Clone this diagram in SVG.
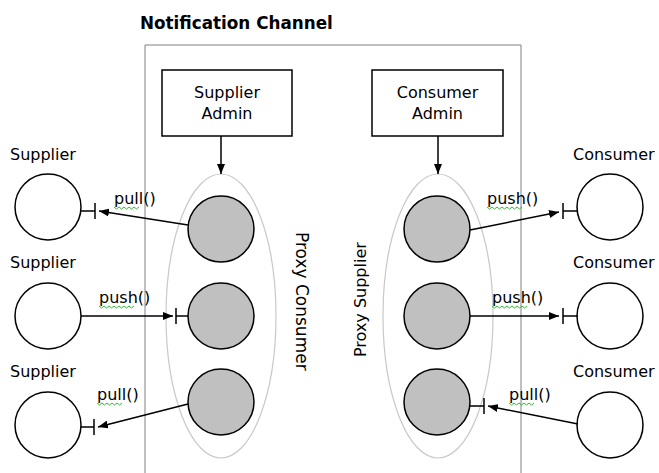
<svg xmlns="http://www.w3.org/2000/svg" width="659" height="473" viewBox="0 0 659 473">
  <style>
    text { font-family: "DejaVu Sans", Verdana, sans-serif; font-size: 16px; fill: #000; }
    .title { font-weight: bold; font-size: 16.8px; }
    .mid { text-anchor: middle; }
    .box { fill: #fff; stroke: #000; stroke-width: 1.5; }
    .client { fill: #fff; stroke: #000; stroke-width: 1.5; }
    .proxy { fill: #c0c0c0; stroke: #000; stroke-width: 1.5; }
    .group { fill: none; stroke: #c8c8c8; stroke-width: 1.2; }
    .edge { fill: none; stroke: #000; stroke-width: 1.5; marker-end: url(#arrow); }
    .tee { fill: none; stroke: #000; stroke-width: 1.5; }
    .squiggle { fill: none; stroke: #33bb33; stroke-width: 1; }
  </style>
  <defs>
    <marker id="arrow" viewBox="0 0 10 8" refX="10" refY="4" markerWidth="10" markerHeight="8" markerUnits="userSpaceOnUse" orient="auto">
      <path d="M0,0 L10,4 L0,8 Z" fill="#000"/>
    </marker>
  </defs>

  <rect width="659" height="473" fill="#fff"/>

  <!-- channel frame -->
  <g id="channel">
    <text class="title" x="140" y="29">Notification Channel</text>
    <path d="M145,473 V45 H521 V473" fill="none" stroke="#808080" stroke-width="1"/>
  </g>

  <!-- proxy groupings -->
  <g id="proxy-consumer-group">
    <ellipse class="group" cx="221" cy="316" rx="55" ry="142"/>
    <text transform="translate(296,232) rotate(90)" style="font-size:17px">Proxy Consumer</text>
  </g>
  <g id="proxy-supplier-group">
    <ellipse class="group" cx="438" cy="316" rx="55" ry="142"/>
    <text transform="translate(366,357) rotate(-90)">Proxy Supplier</text>
  </g>

  <!-- admin boxes -->
  <g id="supplier-admin">
    <rect class="box" x="162" y="70" width="130" height="66"/>
    <text class="mid" x="227" y="98">Supplier</text>
    <text class="mid" x="227" y="119">Admin</text>
  </g>
  <g id="consumer-admin">
    <rect class="box" x="372" y="70" width="131" height="66"/>
    <text class="mid" x="437.5" y="98">Consumer</text>
    <text class="mid" x="437.5" y="119">Admin</text>
  </g>

  <!-- proxy objects -->
  <g id="proxy-consumer-1"><circle class="proxy" cx="221" cy="229" r="33"/></g>
  <g id="proxy-consumer-2"><circle class="proxy" cx="221" cy="316" r="33"/></g>
  <g id="proxy-consumer-3"><circle class="proxy" cx="221" cy="402" r="33"/></g>
  <g id="proxy-supplier-1"><circle class="proxy" cx="437" cy="229" r="33"/></g>
  <g id="proxy-supplier-2"><circle class="proxy" cx="437" cy="316" r="33"/></g>
  <g id="proxy-supplier-3"><circle class="proxy" cx="437" cy="402" r="33"/></g>

  <!-- suppliers -->
  <g id="supplier-1">
    <text x="10" y="160">Supplier</text>
    <circle class="client" cx="48" cy="207" r="33"/>
  </g>
  <g id="supplier-2">
    <text x="10" y="268">Supplier</text>
    <circle class="client" cx="48" cy="316" r="33"/>
  </g>
  <g id="supplier-3">
    <text x="10" y="377">Supplier</text>
    <circle class="client" cx="48" cy="425" r="33"/>
  </g>

  <!-- consumers -->
  <g id="consumer-1">
    <text x="573" y="160">Consumer</text>
    <circle class="client" cx="610" cy="207" r="33"/>
  </g>
  <g id="consumer-2">
    <text x="573" y="268">Consumer</text>
    <circle class="client" cx="610" cy="316" r="33"/>
  </g>
  <g id="consumer-3">
    <text x="573" y="377">Consumer</text>
    <circle class="client" cx="610" cy="425" r="33"/>
  </g>

  <!-- connectors -->
  <g id="connectors">
    <line class="edge" x1="221" y1="136" x2="221" y2="174"/>
    <line class="edge" x1="438" y1="136" x2="438" y2="174"/>

    <!-- supplier side -->
    <line class="edge" x1="188" y1="225" x2="99" y2="211"/>
    <path class="tee" d="M81,211 H95 M95,203 V219"/>
    <text x="114" y="204">pull()</text>
    <path class="squiggle" d="M114,207 l2.5,2 l2.5,-2 l2.5,2 l2.5,-2 l2.5,2 l2.5,-2 l2.5,2 l2.5,-2 l2.5,2 l2.5,-2"/>

    <line class="edge" x1="81" y1="316" x2="173" y2="316"/>
    <path class="tee" d="M176,308 V324 M176,316 H188"/>
    <text x="99" y="303">push()</text>
    <path class="squiggle" d="M99,306 l2.5,2 l2.5,-2 l2.5,2 l2.5,-2 l2.5,2 l2.5,-2 l2.5,2 l2.5,-2 l2.5,2 l2.5,-2 l2.5,2 l2.5,-2 l2.5,2 l2.5,-2"/>

    <line class="edge" x1="188" y1="404" x2="98" y2="427"/>
    <path class="tee" d="M81,427 H94 M94,419 V435"/>
    <text x="97" y="400">pull()</text>
    <path class="squiggle" d="M97,403 l2.5,2 l2.5,-2 l2.5,2 l2.5,-2 l2.5,2 l2.5,-2 l2.5,2 l2.5,-2 l2.5,2 l2.5,-2"/>

    <!-- consumer side -->
    <line class="edge" x1="470" y1="230" x2="559" y2="212"/>
    <path class="tee" d="M563,203 V219 M563,211 H578"/>
    <text x="487" y="204">push()</text>
    <path class="squiggle" d="M487,207 l2.5,2 l2.5,-2 l2.5,2 l2.5,-2 l2.5,2 l2.5,-2 l2.5,2 l2.5,-2 l2.5,2 l2.5,-2 l2.5,2 l2.5,-2 l2.5,2 l2.5,-2"/>

    <line class="edge" x1="470" y1="316" x2="559" y2="316"/>
    <path class="tee" d="M563,308 V324 M563,316 H578"/>
    <text x="492" y="303">push()</text>
    <path class="squiggle" d="M492,306 l2.5,2 l2.5,-2 l2.5,2 l2.5,-2 l2.5,2 l2.5,-2 l2.5,2 l2.5,-2 l2.5,2 l2.5,-2 l2.5,2 l2.5,-2 l2.5,2 l2.5,-2"/>

    <line class="edge" x1="578" y1="424" x2="488" y2="406"/>
    <path class="tee" d="M470,406 H484 M484,398 V414"/>
    <text x="509" y="400">pull()</text>
    <path class="squiggle" d="M509,403 l2.5,2 l2.5,-2 l2.5,2 l2.5,-2 l2.5,2 l2.5,-2 l2.5,2 l2.5,-2 l2.5,2 l2.5,-2"/>
  </g>
</svg>
